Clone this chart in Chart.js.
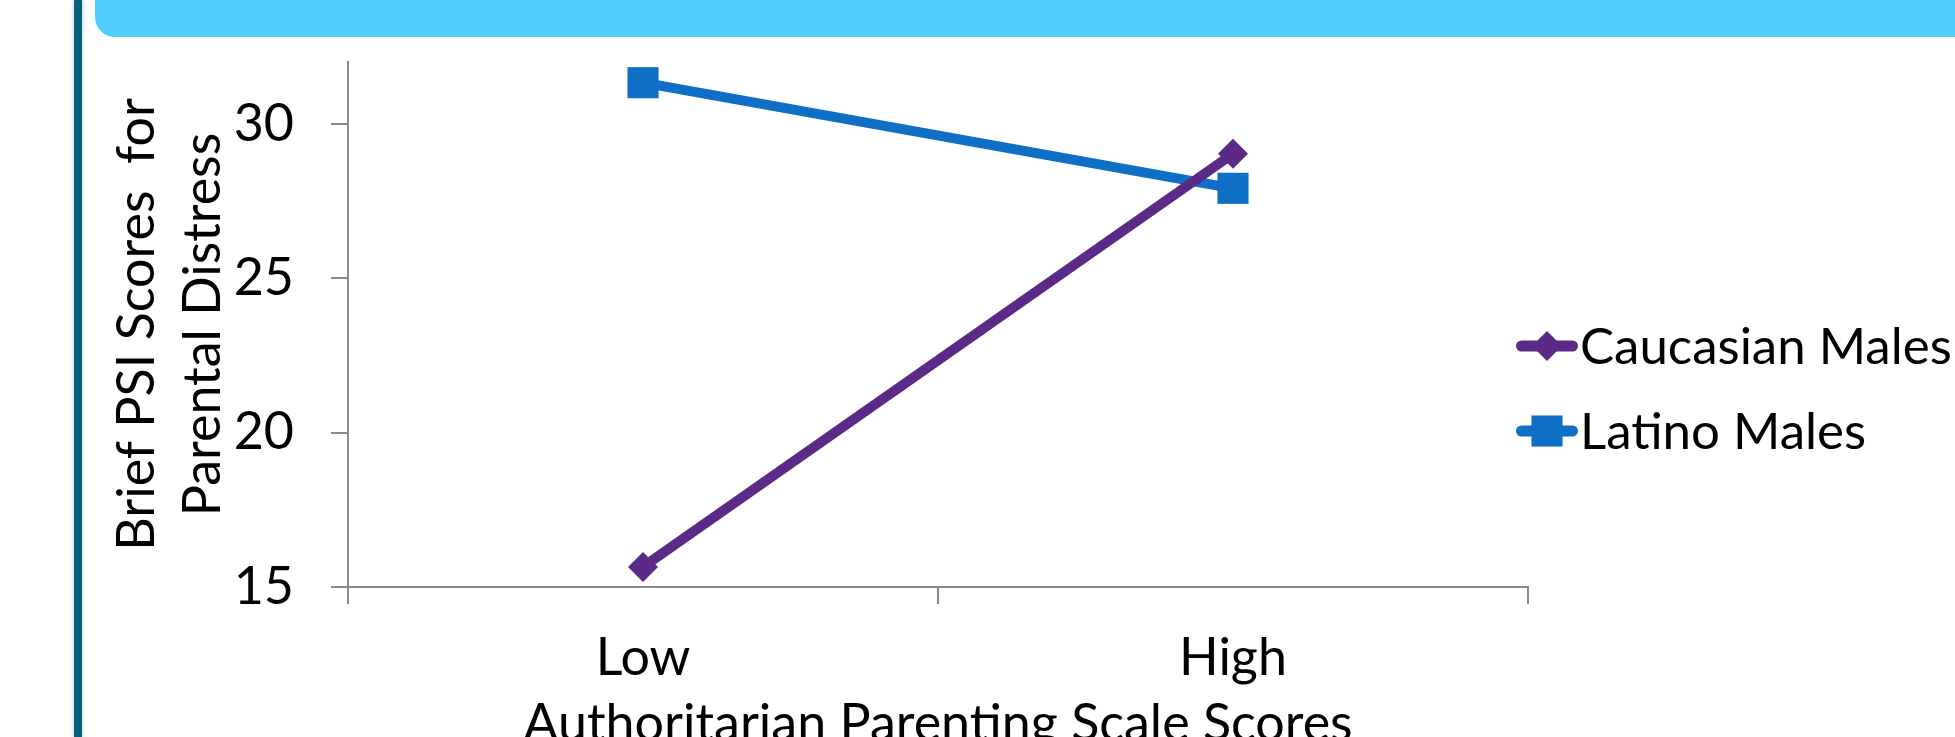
<!DOCTYPE html>
<html>
<head>
<meta charset="utf-8">
<script src="https://cdn.jsdelivr.net/npm/chart.js@4.4.1/dist/chart.umd.min.js"></script>
<style>
  html, body { margin: 0; padding: 0; background: #ffffff; overflow: hidden; width: 1955px; height: 737px; }
  #rail { position: absolute; left: 74px; top: 0; width: 8px; height: 737px; background: #05607f;
          box-shadow: 0 0 5px rgba(0,0,0,0.25); }
  #banner { position: absolute; left: 95px; top: 0; width: 1860px; height: 37px; background: #52cdff;
            border-bottom-left-radius: 20px; }
  #wrap { position: absolute; left: 0; top: 0; width: 1955px; height: 800px; }
</style>
</head>
<body>
<div id="rail"></div>
<div id="banner"></div>
<div id="wrap"><canvas id="chart" width="1955" height="800"></canvas></div>
<script>
// Mean Brief PSI parental-distress scores by authoritarian parenting level
const categories = ['Low', 'High'];
const caucasianMales = [15.65, 29.03];
const latinoMales = [31.33, 27.91];
const seriesNames = ['Caucasian Males', 'Latino Males'];
const yTickValues = [15, 20, 25, 30];
const yTitleLines = ['Brief PSI Scores  for', 'Parental Distress'];
const xTitleText = 'Authoritarian Parenting Scale Scores';

const FONT = 'Lato';
const FONT_SIZE = 52;
const AXIS_GREY = '#8a8a8a';
const PURPLE = '#5b2a86';
const BLUE = '#0f6fc6';

// Legend at the right: a short line with the series marker, then the name
const sideLegend = {
  id: 'sideLegend',
  afterDraw(chart, args, opts) {
    const ctx = chart.ctx;
    chart.data.datasets.forEach((ds, i) => {
      const y = opts.top + i * opts.rowGap;
      ctx.save();
      ctx.strokeStyle = ds.borderColor;
      ctx.lineWidth = ds.borderWidth + 1;
      ctx.lineCap = 'round';
      ctx.beginPath();
      ctx.moveTo(opts.x0 + ctx.lineWidth / 2, y);
      ctx.lineTo(opts.x1 - ctx.lineWidth / 2, y);
      ctx.stroke();
      ctx.fillStyle = ds.pointBackgroundColor;
      Chart.helpers.drawPoint(ctx, { pointStyle: ds.pointStyle, radius: ds.pointRadius, borderWidth: 0, rotation: 0 },
        (opts.x0 + opts.x1) / 2, y);
      ctx.fillStyle = '#000000';
      ctx.font = opts.fontSize + 'px ' + FONT;
      ctx.textBaseline = 'middle';
      ctx.textAlign = 'left';
      ctx.fillText(ds.label, opts.textX, y + opts.textDy);
      ctx.restore();
    });
  }
};

function draw() {
  new Chart(document.getElementById('chart'), {
    type: 'line',
    data: {
      labels: categories,
      datasets: [
        {
          label: seriesNames[0],
          data: caucasianMales,
          borderColor: PURPLE,
          backgroundColor: PURPLE,
          pointBackgroundColor: PURPLE,
          borderWidth: 10,
          pointStyle: 'rectRot',
          pointRadius: 15,
          pointBorderWidth: 0,
          tension: 0
        },
        {
          label: seriesNames[1],
          data: latinoMales,
          borderColor: BLUE,
          backgroundColor: BLUE,
          pointBackgroundColor: BLUE,
          borderWidth: 10,
          pointStyle: 'rect',
          pointRadius: 22,
          pointBorderWidth: 0,
          tension: 0
        }
      ]
    },
    options: {
      responsive: false,
      animation: false,
      devicePixelRatio: 1,
      clip: false,
      layout: { padding: { top: 62, right: 427, bottom: 0, left: 0 } },
      plugins: {
        legend: { display: false },
        tooltip: { enabled: false },
        sideLegend: { x0: 1516, x1: 1578, textX: 1580, top: 346, rowGap: 85, fontSize: 51, textDy: 2 }
      },
      scales: {
        x: {
          type: 'category',
          offset: true,
          grid: { display: true, drawOnChartArea: false, drawTicks: true, tickLength: 17, color: AXIS_GREY, lineWidth: 2, offset: true },
          border: { display: true, color: AXIS_GREY, width: 2 },
          ticks: { color: '#000000', padding: 23, font: { family: FONT, size: FONT_SIZE }, maxRotation: 0 },
          title: { display: true, text: xTitleText, color: '#000000', font: { family: FONT, size: FONT_SIZE }, padding: { top: 0, bottom: 45 } },
          afterFit(scale) {
            scale.height = 800 - 587;
            scale.paddingLeft = 0;
            scale.paddingRight = 0;
          }
        },
        y: {
          type: 'linear',
          min: 15,
          max: 32,
          afterBuildTicks(scale) { scale.ticks = yTickValues.map(v => ({ value: v })); },
          grid: { display: true, drawOnChartArea: false, drawTicks: true, tickLength: 17, color: AXIS_GREY, lineWidth: 2 },
          border: { display: true, color: AXIS_GREY, width: 2 },
          ticks: { color: '#000000', padding: 37, font: { family: FONT, size: FONT_SIZE } },
          title: { display: true, text: yTitleLines, color: '#000000', font: { family: FONT, size: FONT_SIZE, lineHeight: 1.27 }, padding: { top: 104, bottom: 0 } },
          afterFit(scale) {
            scale.width = 348;
            scale.paddingTop = 0;
            scale.paddingBottom = 0;
          }
        }
      }
    },
    plugins: [sideLegend]
  });
}

document.fonts.load(FONT_SIZE + 'px ' + FONT).then(draw, draw);
</script>
</body>
</html>
